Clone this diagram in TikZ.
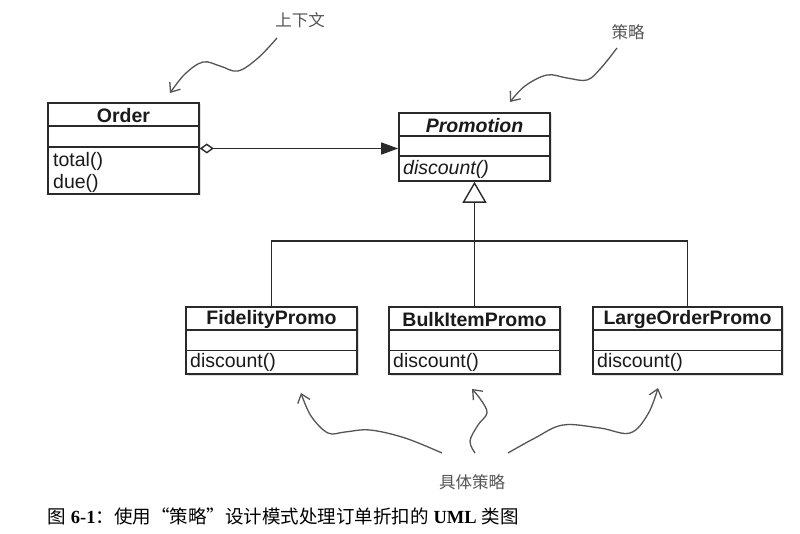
\documentclass[tikz,border=0pt]{standalone}
\usepackage{fontspec}
\setmainfont{Liberation Sans}
\newfontfamily\cjk{Noto Sans CJK SC}
\newfontfamily\capserif{Liberation Serif}
\usetikzlibrary{arrows.meta,shadows}
\definecolor{boxline}{HTML}{2A2A2A}
\definecolor{txt}{HTML}{1A1A1A}
\definecolor{note}{HTML}{555555}
\begin{document}
\begin{tikzpicture}[x=1pt,y=-1pt,
  cls/.style={draw=boxline, line width=1.6pt, fill=white, rectangle, inner sep=0pt,
    drop shadow={opacity=0.25, shadow xshift=1.5pt, shadow yshift=-1.5pt}},
  secline/.style={draw=boxline, line width=1.4pt},
  conn/.style={draw=boxline, line width=1.4pt},
  title/.style={inner sep=0pt, text=txt, font=\fontsize{19.5}{22}\selectfont\bfseries},
  ititle/.style={inner sep=0pt, text=txt, font=\fontsize{19.5}{22}\selectfont\bfseries\itshape},
  meth/.style={inner sep=0pt, anchor=west, text=txt, font=\fontsize{19.5}{22}\selectfont},
  imeth/.style={inner sep=0pt, anchor=west, text=txt, font=\fontsize{19.5}{22}\selectfont\itshape},
  lbl/.style={inner sep=0pt, text=note, font=\fontsize{16.5}{19}\cjk},
  squig/.style={draw=note, line width=1.3pt, -{Straight Barb[length=8pt,width=13pt,line width=1.3pt]}},
]
\useasboundingbox (0,0) rectangle (800,534);
\fill[white] (0,0) rectangle (800,534);

% class boxes
\node[cls, minimum width=151pt, minimum height=91pt] (order) at (123.5,148.5) {};
\node[cls, minimum width=151pt, minimum height=68pt] (promo) at (474.5,147) {};
\node[cls, minimum width=171pt, minimum height=67pt] (fid) at (271.5,340.5) {};
\node[cls, minimum width=171pt, minimum height=67pt] (bulk) at (474.5,340.5) {};
\node[cls, minimum width=189pt, minimum height=67pt] (lop) at (687.5,340.5) {};

% section lines
\foreach \b/\a/\c in {order/24/45, promo/24/44, fid/24/44, bulk/24/44, lop/24/44}{
  \draw[secline] ([yshift=-\a pt]\b.north west) -- ([yshift=-\a pt]\b.north east);
  \draw[secline] ([yshift=-\c pt]\b.north west) -- ([yshift=-\c pt]\b.north east);
}

% texts
\node[title] (orderT) at (123.5,115.5) {Order};
\node[meth] (orderM1) at (53,161) {total()};
\node[meth] (orderM2) at (53,183.5) {due()};
\node[ititle] (promoT) at (474.5,125.5) {Promotion};
\node[imeth] (promoM) at (403,169) {discount()};
\node[title] (fidT) at (271.5,319.5) {FidelityPromo};
\node[meth] (fidM) at (190,362) {discount()};
\node[title] (bulkT) at (474.5,319.5) {BulkItemPromo};
\node[meth] (bulkM) at (393,362) {discount()};
\node[title] (lopT) at (687.5,319.5) {LargeOrderPromo};
\node[meth] (lopM) at (597,362) {discount()};

% aggregation
\draw[conn, {Diamond[open,length=14pt,width=10pt]}-{Triangle[length=17pt,width=12pt]}]
  (order.east) -- (order.east -| promo.west);

% inheritance
\coordinate (j) at (474.5,241);
\draw[conn] (fid.north) |- (j) -| (lop.north);
\draw[conn, -{Triangle[open,length=21pt,width=24pt,fill=white]}] (bulk.north) -- (promo.south);

% notes
\node[lbl] (ctx) at (300,20) {上下文};
\node[lbl] (strat) at (628,32) {策略};
\node[lbl] (conc) at (472,482) {具体策略};

\coordinate (ctxs) at (277,38);
\coordinate (strs) at (617,48);
\coordinate (c1s) at (442,453);
\coordinate (c2s) at (475,453);
\coordinate (c3s) at (508,453);

\draw[squig] plot[smooth, tension=0.6] coordinates {(ctxs) (258,58) (238,71) (220,66) (203,62) (185,74) (170,93)};
\draw[squig] plot[smooth, tension=0.6] coordinates {(strs) (601,68) (587,80) (567,78) (547,75) (525,86) (510,102)};
\draw[squig] plot[smooth, tension=0.6] coordinates {(c1s) (405,438) (370,430) (345,432) (328,433) (311,416) (301,393)};
\draw[squig] plot[smooth, tension=0.6] coordinates {(c2s) (470,441) (478,425) (487,413) (481,400) (472,389)};
\draw[squig] plot[smooth, tension=0.6] coordinates {(c3s) (535,438) (563,425) (600,428) (630,433) (648,414) (658,388)};

% caption
\node[inner sep=0pt, anchor=west, text=black, font=\fontsize{18.5}{21}\selectfont] (cap) at (47,516)
  {{\cjk 图} {\capserif\bfseries 6-1}{\cjk ：使用“策略”设计模式处理订单折扣的} {\capserif\bfseries UML} {\cjk 类图}};
\end{tikzpicture}
\end{document}
